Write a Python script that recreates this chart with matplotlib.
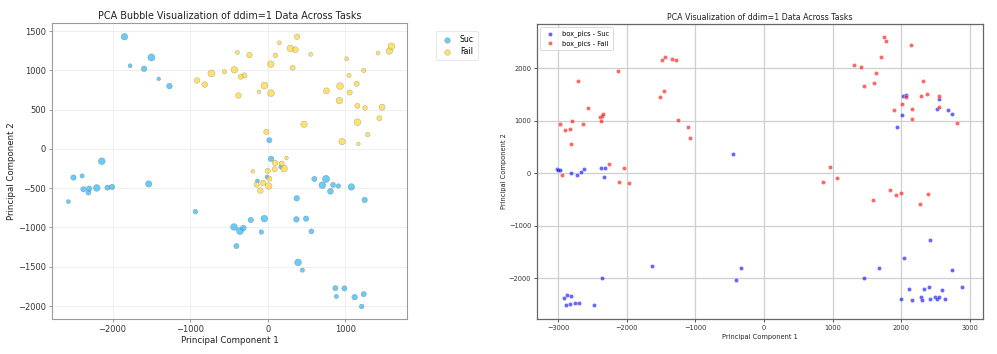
import matplotlib
matplotlib.use("Agg")
import matplotlib.pyplot as plt

# ---------------- Left panel data (bubble plot) ----------------
suc_x = [-1847, -1774, -1499, -1594, -1405, -1267, -2139, -2504, -2393, -2375,
         -2302, -2311, -2204, -2066, -2006, -2569, -1534, -932, 21, 43,
         -9, -133, 168, 601, 752, 704, 842, 911, 808, 1078,
         374, 1250, -434, -357, -314, -219, -43, -82, -404, 369,
         494, 563, 391, 447, 872, 988, 885, 1121, 1237, 1211]
suc_y = [1428, 1058, 1164, 1020, 892, 799, -157, -365, -344, -514,
         -506, -557, -497, -493, -484, -671, -446, -799, 110, -127,
         -357, -408, -229, -382, -382, -463, -459, -472, -540, -484,
         -629, -650, -994, -1045, -1007, -905, -888, -1058, -1237, -897,
         -888, -1050, -1445, -1543, -1772, -1776, -1878, -1887, -1849, -2006]
suc_s = [19, 7, 22, 14, 6, 14, 20, 13, 8, 13,
         13, 11, 20, 12, 13, 7, 18, 10, 12, 13,
         7, 7, 7, 12, 22, 20, 12, 9, 15, 19,
         14, 13, 20, 22, 14, 13, 20, 9, 12, 14,
         13, 11, 20, 8, 12, 12, 8, 14, 12, 10]

fail_x = [378, 150, 292, 357, -391, -236, 99, 554, 39, 322,
          -726, -558, -430, -301, -348, -911, -812, -112, -43, 43,
          -378, 1018, 1237, 1048, 1147, 932, 1057, 756, 924, 1156,
          1254, 1473, 1156, 1439, 1289, 1168, 1422, 1568, 1594, 468,
          958, -17, 95, 180, 241, 210, 90, 0, 21, -193,
          -60, -142, -95, 13]
fail_y = [1428, 1351, 1279, 1262, 1228, 1194, 1190, 1203, 1079, 1033,
          960, 982, 1007, 935, 918, 871, 820, 727, 807, 710,
          680, 1147, 999, 935, 829, 799, 718, 739, 616, 548,
          523, 531, 340, 391, 183, 64, 1220, 1245, 1305, 314,
          93, 217, -178, -187, -115, -251, -259, -280, -378, -285,
          -433, -455, -531, -472]
fail_s = [13, 7, 19, 15, 7, 13, 9, 7, 19, 11,
          21, 9, 19, 12, 12, 14, 14, 6, 21, 20,
          14, 7, 8, 8, 12, 20, 12, 16, 19, 12,
          10, 16, 20, 11, 9, 6, 7, 18, 20, 18,
          18, 13, 14, 12, 6, 20, 12, 12, 12, 6,
          13, 12, 14, 19]

# ---------------- Right panel data (box_pics) ----------------
bsuc_x = [-3019, -3005, -2976, -2820, -2733, -2674, -2621, -2382, -2324, -2334,
          -452, -2363, -2922, -2869, -2820, -2883, -2825, -2757, -2703, -2475,
          -1629, -413, -331, 1459, 1677, 1998, 2105, 2159, 2042, 2280,
          2300, 2324, 2402, 2421, 2421, 2489, 2514, 2543, 2596, 2630,
          2733, 2888, 1940, 2003, 2018, 2071, 2514, 2553, 2679, 2733]
bsuc_y = [83, 63, 63, 0, -32, 32, 83, 95, 102, -76,
          375, -1987, -2375, -2324, -2337, -2514, -2483, -2476, -2476, -2502,
          -1771, -2038, -1797, -2000, -1797, -2400, -2210, -2419, -1619, -2356,
          -2419, -2203, -2159, -1263, -2387, -2356, -2387, -2349, -2229, -2387,
          -1848, -2171, 883, 1117, 1479, 1492, 1232, 1410, 1206, 1137]

bfail_x = [-2971, -2951, -2903, -2835, -2810, -2801, -2708, -2645, -2567, -2397,
           -2363, -2373, -2348, -2256, -2130, -2110, -2037, -1964, -1493, -1439,
           -1337, -1288, -1522, -1464, -1254, -1104, -1075, 865, 968, 1065,
           1313, 1410, 1459, 1595, 1624, 1711, 1750, 1775, 2139, 1590,
           1838, 1930, 1989, 2276, 2392, 1887, 2008, 2066, 2154, 2149,
           2290, 2314, 2373, 2543, 2553, 2810]
bfail_y = [946, -38, 832, 838, 552, 990, 1765, 933, 1251, 1067,
           1092, 1003, 1124, 171, 1943, -159, 108, -190, 2159, 2222,
           2178, 2165, 1448, 1562, 1022, 883, 679, -165, 114, -95,
           2057, 2032, 1657, 1727, 1905, 2216, 2590, 2521, 2451, -502,
           -324, -419, -368, -590, -400, 1206, 1327, 1454, 1219, 1035,
           1467, 1765, 1517, 1270, 1467, 959]

left_xticks = [-2000, -1000, 0, 1000]
left_yticks = [-2000, -1500, -1000, -500, 0, 500, 1000, 1500]
right_xticks = [-3000, -2000, -1000, 0, 1000, 2000, 3000]
right_yticks = [-2000, -1000, 0, 1000, 2000]

plt.rcParams['font.family'] = ['DejaVu Sans']

fig = plt.figure(figsize=(9.97, 3.54), dpi=100)

# ---------------- Left axes ----------------
axL = fig.add_axes([0.0522, 0.0989, 0.356, 0.836])
axL.scatter(suc_x, suc_y, s=[v * 1.2 for v in suc_s], c='#29b6f6', alpha=0.7,
            edgecolors='#7a7a7a', linewidths=0.3, label='Suc', zorder=3)
axL.scatter(fail_x, fail_y, s=[v * 1.2 for v in fail_s], c='#ffd21f', alpha=0.65,
            edgecolors='#7a7a7a', linewidths=0.3, label='Fail', zorder=3)
axL.set_xlim(-2780, 1795)
axL.set_ylim(-2165, 1602)
axL.set_xticks(left_xticks)
axL.set_yticks(left_yticks)
axL.grid(True, color='#ececec', linewidth=0.6)
axL.set_axisbelow(True)
for sp in axL.spines.values():
    sp.set_color('#9a9a9a')
    sp.set_linewidth(0.8)
axL.tick_params(labelsize=6.0, length=2.5, width=0.6, colors='#888888',
                labelcolor='#333333', pad=2)
axL.set_title('PCA Bubble Visualization of ddim=1 Data Across Tasks', fontsize=6.9,
              color='#222222', pad=3)
axL.set_xlabel('Principal Component 1', fontsize=6.2, color='#222222', labelpad=1)
axL.set_ylabel('Principal Component 2', fontsize=6.2, color='#222222', labelpad=1)
legL = axL.legend(loc='upper left', bbox_to_anchor=(1.07, 0.985), fontsize=5.6,
                  frameon=True, handletextpad=0.6,
                  borderpad=0.5, labelspacing=0.35)
legL.get_frame().set_edgecolor('#dddddd')
legL.get_frame().set_linewidth(0.6)
for h in legL.legend_handles:
    h.set_sizes([16])

# ---------------- Right axes ----------------
axR = fig.add_axes([0.5386, 0.0989, 0.4473, 0.8333])
axR.scatter(bsuc_x, bsuc_y, s=9, c='blue', alpha=0.6, edgecolors='white',
            linewidths=0.3, label='box_pics - Suc', zorder=3)
axR.scatter(bfail_x, bfail_y, s=9, c='red', alpha=0.6, edgecolors='white',
            linewidths=0.3, label='box_pics - Fail', zorder=3)
axR.set_xlim(-3310, 3190)
axR.set_ylim(-2775, 2845)
axR.set_xticks(right_xticks)
axR.set_yticks(right_yticks)
axR.grid(True, color='#cfcfcf', linewidth=0.9)
axR.set_axisbelow(True)
for sp in axR.spines.values():
    sp.set_color('#666666')
    sp.set_linewidth(0.9)
axR.tick_params(labelsize=4.8, colors='#333333', length=2.2, width=0.6, pad=2)
axR.set_title('PCA Visualization of ddim=1 Data Across Tasks', fontsize=5.7,
              color='#222222', pad=3)
axR.set_xlabel('Principal Component 1', fontsize=4.8, color='#222222', labelpad=2)
axR.set_ylabel('Principal Component 2', fontsize=4.8, color='#222222', labelpad=1)
legR = axR.legend(loc='upper left', fontsize=4.8, frameon=True,
                  handletextpad=0.8, borderpad=0.5, labelspacing=0.4)
legR.get_frame().set_edgecolor('#cccccc')
legR.get_frame().set_linewidth(0.6)

fig.savefig('out.png', dpi=100)
